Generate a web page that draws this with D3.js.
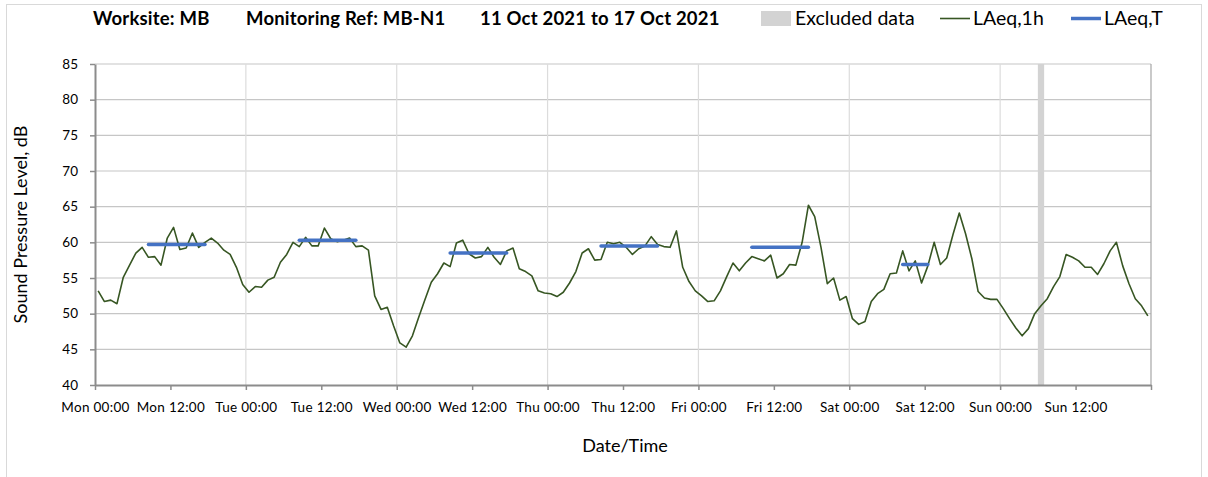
<!DOCTYPE html>
<html>
<head>
<meta charset="utf-8">
<script src="https://cdn.jsdelivr.net/npm/d3@7"></script>
<style>
  body { margin: 0; background: #fff; font-family: Lato, "Open Sans", sans-serif; }
  svg text { fill: #000; }
</style>
</head>
<body>
<div class="graphic"></div>
<script>
// hourly LAeq,1h values, Mon 00:00 .. Sun 23:00
const laeq1h = [
  53.2, 51.7, 51.9, 51.4, 55.1, 56.8, 58.5, 59.3, 57.9, 58.0, 56.8, 60.6,
  62.1, 59.0, 59.2, 61.3, 59.3, 60.0, 60.6, 59.9, 58.9, 58.3, 56.5, 54.1,
  53.0, 53.8, 53.7, 54.7, 55.1, 57.2, 58.3, 60.0, 59.4, 60.7, 59.5, 59.5,
  62.0, 60.5, 60.1, 60.3, 60.6, 59.4, 59.5, 58.9, 52.5, 50.6, 50.9, 48.3,
  45.9, 45.3, 46.9, 49.5, 52.0, 54.4, 55.6, 57.1, 56.6, 59.9, 60.3, 58.4,
  57.8, 58.0, 59.3, 57.9, 56.9, 58.8, 59.2, 56.3, 55.9, 55.3, 53.2, 52.9,
  52.8, 52.4, 53.0, 54.3, 55.9, 58.5, 59.1, 57.5, 57.6, 60.0, 59.8, 60.0,
  59.3, 58.3, 59.1, 59.5, 60.8, 59.7, 59.4, 59.3, 61.6, 56.5, 54.5, 53.2,
  52.5, 51.7, 51.8, 53.2, 55.2, 57.1, 56.0, 57.1, 58.0, 57.7, 57.4, 58.2,
  55.0, 55.6, 56.9, 56.8, 60.0, 65.2, 63.6, 59.3, 54.2, 55.0, 51.9, 52.4,
  49.3, 48.5, 48.9, 51.7, 52.8, 53.4, 55.6, 55.7, 58.8, 56.0, 57.4, 54.3,
  56.7, 60.0, 56.9, 57.8, 61.1, 64.1, 61.2, 57.7, 53.1, 52.2, 52.0, 52.0,
  50.7, 49.3, 48.0, 46.9, 47.9, 50.0, 51.1, 52.1, 53.8, 55.2, 58.3, 57.9,
  57.4, 56.5, 56.5, 55.5, 57.0, 58.8, 60.0, 56.7, 54.2, 52.1, 51.1, 49.7
];

// LAeq,T daytime periods: start hour index, end hour index, level
const periodStart = [8, 32, 56, 80, 104, 128];
const periodEnd = [17, 41, 65, 89, 113, 132];
const periodLevel = [59.7, 60.3, 58.5, 59.5, 59.3, 56.9];

const excludedHours = [150];

const xTickLabels = [
  'Mon 00:00', 'Mon 12:00', 'Tue 00:00', 'Tue 12:00', 'Wed 00:00', 'Wed 12:00',
  'Thu 00:00', 'Thu 12:00', 'Fri 00:00', 'Fri 12:00', 'Sat 00:00', 'Sat 12:00',
  'Sun 00:00', 'Sun 12:00'
];
const yTicks = [40, 45, 50, 55, 60, 65, 70, 75, 80, 85];

const W = 1208, H = 477;
const plotLeft = 95, plotRight = 1151, plotTop = 64, plotBottom = 385;

const svg = d3.select('.graphic')
  .append('svg')
  .attr('width', W)
  .attr('height', H);

// chart area border
svg.append('rect')
  .attr('x', 6.5).attr('y', 4.5)
  .attr('width', 1195).attr('height', 490)
  .attr('fill', 'none')
  .attr('stroke', '#d9d9d9');

const x = d3.scaleLinear().domain([0, 168]).range([plotLeft, plotRight]);
const y = d3.scaleLinear().domain([40, 85]).range([plotBottom, plotTop]);

// gridlines
svg.append('g')
  .selectAll('line')
  .data(yTicks.slice(1))
  .enter()
  .append('line')
  .attr('x1', plotLeft).attr('x2', plotRight)
  .attr('y1', d => y(d)).attr('y2', d => y(d))
  .attr('stroke', '#c6c6c6')
  .attr('stroke-width', 1.2);

svg.append('g')
  .selectAll('line')
  .data(d3.range(24, 168, 24))
  .enter()
  .append('line')
  .attr('x1', d => x(d)).attr('x2', d => x(d))
  .attr('y1', plotTop).attr('y2', plotBottom)
  .attr('stroke', '#dcdcdc')
  .attr('stroke-width', 1.2);

// right border of plot
svg.append('line')
  .attr('x1', x(168)).attr('x2', x(168))
  .attr('y1', plotTop).attr('y2', plotBottom)
  .attr('stroke', '#a6a6a6')
  .attr('stroke-width', 1.2);

// excluded data band
svg.selectAll('rect.excluded')
  .data(excludedHours)
  .enter()
  .append('rect')
  .attr('class', 'excluded')
  .attr('x', d => x(d))
  .attr('width', d => x(d + 1) - x(d))
  .attr('y', plotTop)
  .attr('height', plotBottom - plotTop)
  .attr('fill', '#d3d3d3');

// axes
const xAxis = d3.axisBottom(x)
  .tickValues(d3.range(0, 169, 12))
  .tickFormat((d, i) => xTickLabels[i] || '')
  .tickSizeInner(5)
  .tickSizeOuter(0);

const gx = svg.append('g')
  .attr('transform', `translate(0,${plotBottom})`)
  .call(xAxis);
gx.select('.domain').attr('stroke', '#8c8c8c').attr('stroke-width', 2);
gx.selectAll('.tick line').attr('stroke', '#8c8c8c').attr('stroke-width', 1.5);
gx.selectAll('.tick text')
  .attr('font-family', 'Lato, sans-serif')
  .attr('font-size', 13.5)
  .attr('letter-spacing', 0.3)
  .attr('y', 17)
  .attr('dy', '0.71em')
  .attr('fill', '#000');

const yAxis = d3.axisLeft(y)
  .tickValues(yTicks)
  .tickSizeInner(5)
  .tickSizeOuter(0)
  .tickPadding(12);

const gy = svg.append('g')
  .attr('transform', `translate(${plotLeft},0)`)
  .call(yAxis);
gy.select('.domain').attr('stroke', '#8c8c8c').attr('stroke-width', 2);
gy.selectAll('.tick line').attr('stroke', '#8c8c8c').attr('stroke-width', 1.5);
gy.selectAll('.tick text')
  .attr('font-family', 'Lato, sans-serif')
  .attr('font-size', 13.5)
  .attr('fill', '#000');

// LAeq,1h line
const line = d3.line()
  .x((d, i) => x(i + 0.5))
  .y(d => y(d));

svg.append('path')
  .datum(laeq1h)
  .attr('d', line)
  .attr('fill', 'none')
  .attr('stroke', '#375623')
  .attr('stroke-width', 1.6)
  .attr('stroke-linejoin', 'round');

// LAeq,T segments
svg.selectAll('line.laeqt')
  .data(periodLevel)
  .enter()
  .append('line')
  .attr('class', 'laeqt')
  .attr('x1', (d, i) => x(periodStart[i] + 0.5))
  .attr('x2', (d, i) => x(periodEnd[i] + 0.5))
  .attr('y1', d => y(d))
  .attr('y2', d => y(d))
  .attr('stroke', '#4472c4')
  .attr('stroke-width', 3.5)
  .attr('stroke-linecap', 'round');

// axis titles
svg.append('text')
  .attr('transform', `translate(27,${(plotTop + plotBottom) / 2}) rotate(-90)`)
  .attr('text-anchor', 'middle')
  .attr('font-size', 18)
  .text('Sound Pressure Level, dB');

svg.append('text')
  .attr('x', (plotLeft + plotRight) / 2 + 2)
  .attr('y', 452)
  .attr('text-anchor', 'middle')
  .attr('font-size', 18)
  .text('Date/Time');

// title
const titleParts = ['Worksite: MB', 'Monitoring Ref: MB-N1', '11 Oct 2021 to 17 Oct 2021'];
const titleX = [93, 246, 480];
svg.selectAll('text.title')
  .data(titleParts)
  .enter()
  .append('text')
  .attr('class', 'title')
  .attr('x', (d, i) => titleX[i])
  .attr('y', 25)
  .attr('font-size', 18.5)
  .attr('font-weight', 'bold')
  .attr('letter-spacing', 0.2)
  .text(d => d);

// legend
const lg = svg.append('g').attr('font-size', 19.5);
lg.append('rect')
  .attr('x', 761).attr('y', 11)
  .attr('width', 30).attr('height', 15)
  .attr('fill', '#d3d3d3');
lg.append('text').attr('x', 795).attr('y', 25).text('Excluded data');
lg.append('line')
  .attr('x1', 940).attr('x2', 970).attr('y1', 18.5).attr('y2', 18.5)
  .attr('stroke', '#375623').attr('stroke-width', 1.6);
lg.append('text').attr('x', 973).attr('y', 25).text('LAeq,1h');
lg.append('line')
  .attr('x1', 1071).attr('x2', 1101).attr('y1', 18.5).attr('y2', 18.5)
  .attr('stroke', '#4472c4').attr('stroke-width', 3.5);
lg.append('text').attr('x', 1104).attr('y', 25).text('LAeq,T');
</script>
</body>
</html>
